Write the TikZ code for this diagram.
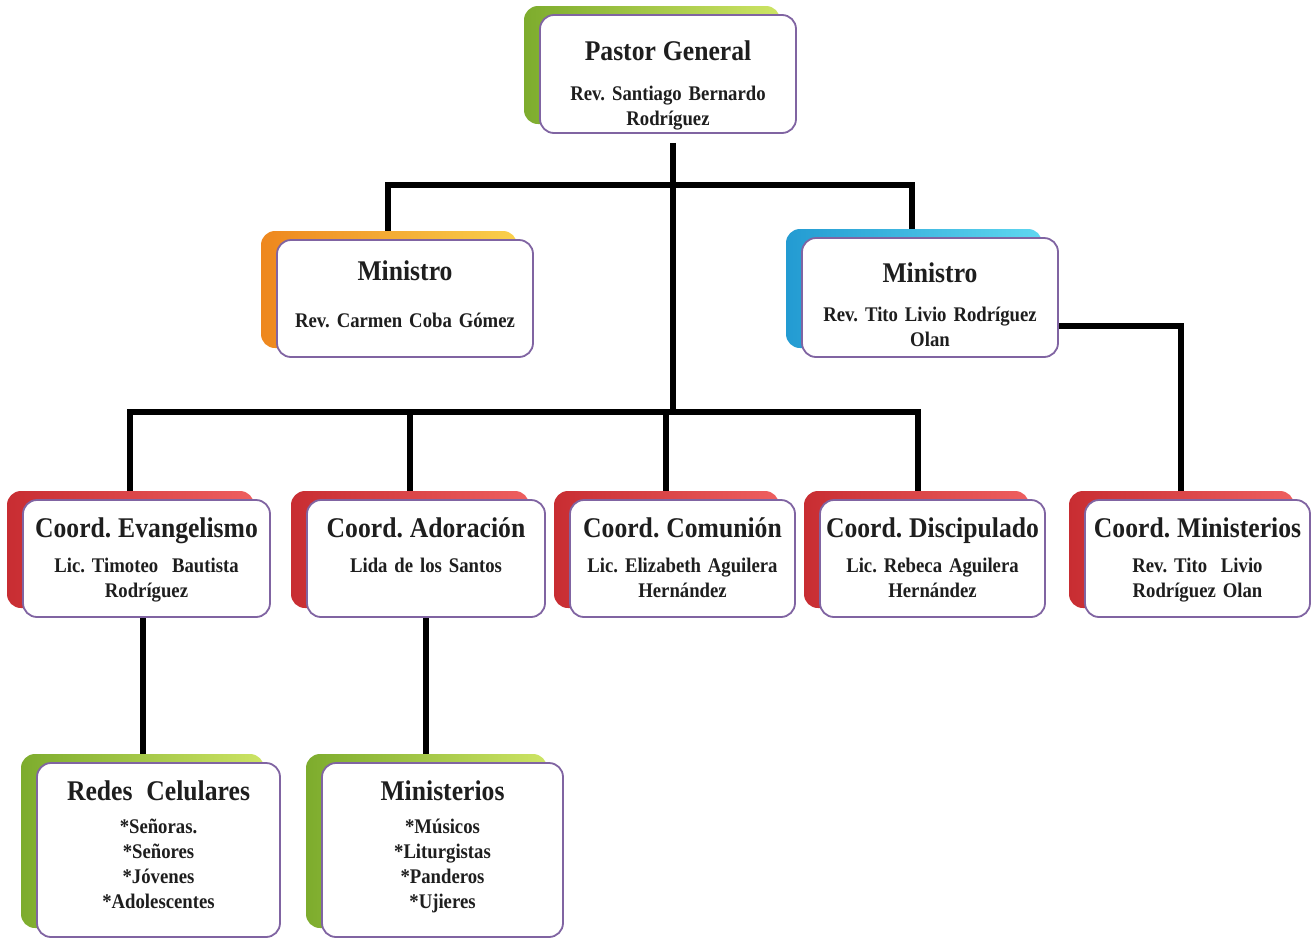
\documentclass[tikz,border=0pt]{standalone}
\usepackage{fontspec}
\setmainfont{Liberation Serif}[FakeStretch=0.9, WordSpace=0.9]
\usetikzlibrary{shadows,backgrounds}

\definecolor{cardline}{RGB}{128,100,162}
\definecolor{inktext}{RGB}{30,30,30}
\definecolor{greenA}{RGB}{125,172,45}
\definecolor{greenB}{RGB}{205,228,100}
\definecolor{orangeA}{RGB}{238,135,30}
\definecolor{orangeB}{RGB}{250,208,75}
\definecolor{cyanA}{RGB}{35,155,210}
\definecolor{cyanB}{RGB}{95,215,240}
\definecolor{redA}{RGB}{200,45,50}
\definecolor{redB}{RGB}{238,95,95}

\newcommand{\ttl}{\fontsize{28.5}{30}\selectfont}

\tikzset{
  card/.style={draw=cardline, line width=1.8pt, fill=white, rounded corners=14pt,
    text=inktext, font=\frenchspacing\bfseries\fontsize{20.8}{25}\selectfont, align=center,
    inner xsep=3pt, inner ysep=0pt},
  backfill/.style 2 args={copy shadow={shadow xshift=-16pt, shadow yshift=9pt,
    draw=none, left color=#1, right color=#2}},
  green card/.style={card, backfill={greenA}{greenB}},
  orange card/.style={card, backfill={orangeA}{orangeB}},
  cyan card/.style={card, backfill={cyanA}{cyanB}},
  red card/.style={card, backfill={redA}{redB}},
  conn/.style={line width=5.5pt, black}
}

\begin{document}
\begin{tikzpicture}[x=1pt, y=-1pt]
  \useasboundingbox (0,0) rectangle (1314,948);

  % top
  \node[green card, text width=250pt, text height=45pt, text depth=73pt] (pastor) at (668,74)
    {{\ttl Pastor General}\\[15pt]Rev. Santiago Bernardo\\Rodríguez};
  \node[orange card, text width=250pt, text height=40pt, text depth=77pt] (min1) at (405,298.5)
    {{\ttl Ministro}\\[22pt]Rev. Carmen Coba Gómez};
  \node[cyan card, text width=250pt, text height=44pt, text depth=75pt] (min2) at (930,297.5)
    {{\ttl Ministro}\\[14pt]Rev. Tito Livio Rodríguez\\Olan};

  % coordinaciones
  \node[red card, text width=241pt, text height=37pt, text depth=80pt] (ev) at (146.5,558.5)
    {{\ttl Coord. Evangelismo}\\[10pt]Lic. Timoteo~ Bautista\\Rodríguez};
  \node[red card, text width=232pt, text height=37pt, text depth=80pt] (ad) at (426,558.5)
    {{\ttl Coord. Adoración}\\[10pt]Lida de los Santos};
  \node[red card, text width=219pt, text height=37pt, text depth=80pt] (com) at (682.5,558.5)
    {{\ttl Coord. Comunión}\\[10pt]Lic. Elizabeth Aguilera\\Hernández};
  \node[red card, text width=219pt, text height=37pt, text depth=80pt] (dis) at (932.5,558.5)
    {{\ttl Coord. Discipulado}\\[10pt]Lic. Rebeca Aguilera\\Hernández};
  \node[red card, text width=219pt, text height=37pt, text depth=80pt] (cmin) at (1197.5,558.5)
    {{\ttl Coord. Ministerios}\\[10pt]Rev. Tito~ Livio\\Rodríguez Olan};

  % bottom
  \node[green card, text width=237pt, text height=37pt, text depth=137pt] (redes) at (158.5,850)
    {{\ttl Redes~ Celulares}\\[8pt]*Señoras.\\{}*Señores\\{}*Jóvenes\\{}*Adolescentes};
  \node[green card, text width=235pt, text height=37pt, text depth=137pt] (minis) at (442.5,850)
    {{\ttl Ministerios}\\[8pt]*Músicos\\{}*Liturgistas\\{}*Panderos\\{}*Ujieres};

  \coordinate (bar1) at (673,185);
  \coordinate (bar2) at (673,412);

  \begin{scope}[on background layer]
    \draw[conn] ([xshift=5pt,yshift=-9pt]pastor.south) -- (bar2);
    \draw[conn] ([xshift=-17pt]min1.north) |- (bar1) -| ([xshift=-18pt]min2.north);
    \draw[conn] ([xshift=-16.5pt]ev.north) |- (bar2) -| ([xshift=-14.5pt]dis.north);
    \draw[conn] ([xshift=-16pt]ad.north) -- ([xshift=-16pt]ad.north |- bar2);
    \draw[conn] ([xshift=-16.5pt]com.north) -- ([xshift=-16.5pt]com.north |- bar2);
    \draw[conn] ([yshift=-28.5pt]min2.east) -| ([xshift=-16.5pt]cmin.north);
    \draw[conn] ([xshift=-3.5pt]ev.south) -- ([xshift=-3.5pt]ev.south |- redes.north);
    \draw[conn] (ad.south) -- (ad.south |- minis.north);
  \end{scope}
\end{tikzpicture}
\end{document}
